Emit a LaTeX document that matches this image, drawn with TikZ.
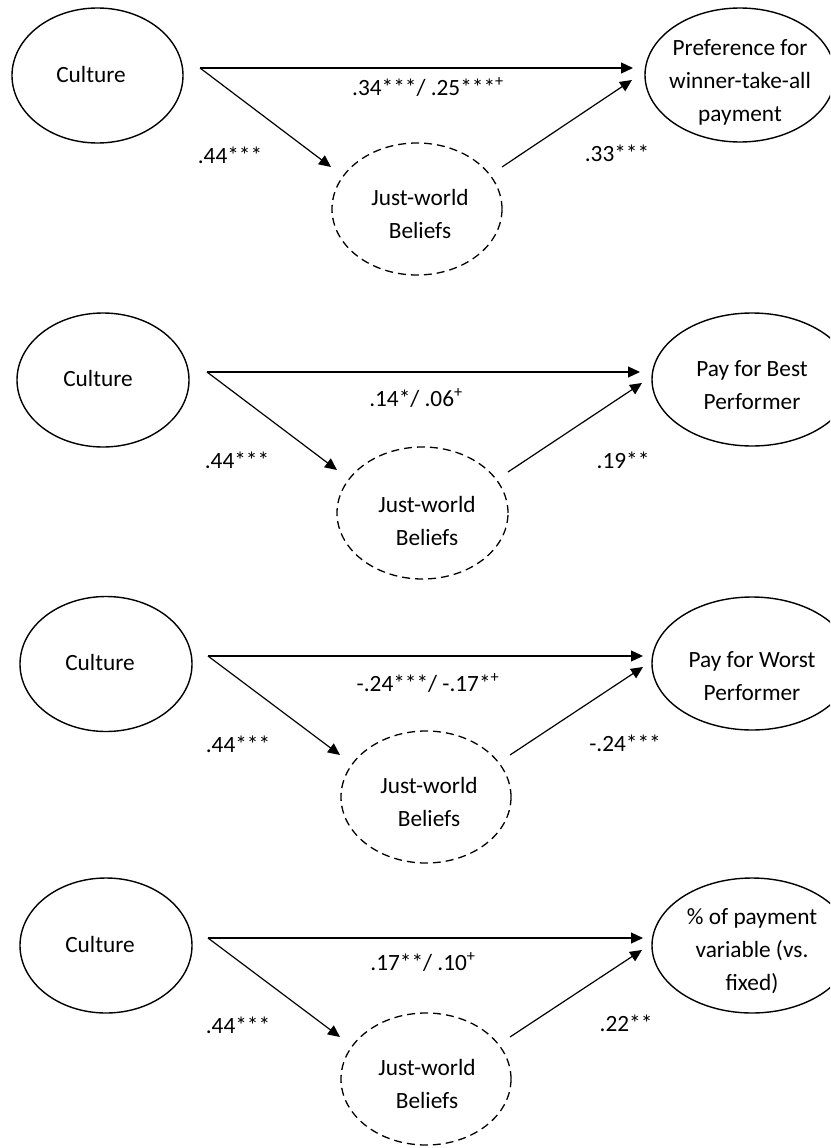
\documentclass[tikz,border=0pt]{standalone}
\usepackage{fontspec}
\setmainfont{Carlito}
\usetikzlibrary{shapes.geometric,arrows.meta}
\tikzset{
  solidell/.style={ellipse, draw, line width=1.4pt, inner sep=0pt},
  dashell/.style={ellipse, draw, line width=1.3pt, dash pattern=on 8pt off 5pt, inner sep=0pt},
  txt/.style={align=center, inner sep=0pt, font=\fontsize{23.3}{33}\selectfont},
  lbl/.style={inner sep=0pt, font=\fontsize{23.3}{28}\selectfont},
  arr/.style={line width=1.2pt, -{Triangle[length=12pt,width=11pt]}}
}
\newcommand{\plussup}{\textsuperscript{+}}
\begin{document}
\begin{tikzpicture}[x=1pt,y=-1pt]
\useasboundingbox (0,0) rectangle (830,1148);
\clip (0,0) rectangle (830,1148);
\fill[white] (0,0) rectangle (830,1148);

% ---------- Panel 1 ----------
\node[solidell, minimum width=171pt, minimum height=135pt] (cu1) at (97.5,75.5) {};
\node[txt] (cu1t) at (91,74) {Culture};
\node[solidell, minimum width=190pt, minimum height=134pt] (ou1) at (740,75) {};
\node[txt] (ou1t) at (740,82.5) {Preference for\\winner-take-all\\payment};
\node[dashell, minimum width=170pt, minimum height=132pt] (jw1) at (417,209) {};
\node[txt] (jw1t) at (420,213.5) {Just-world\\Beliefs};
\coordinate (s1) at (200,68);
\coordinate (e1) at (633,68);
\coordinate (d1) at (331,167);
\coordinate (j1) at (502,167);
\coordinate (f1) at (632,80);
\draw[arr] (s1) -- (e1);
\draw[arr] (s1) -- (d1);
\draw[arr] (j1) -- (f1);
\node[lbl] (l1a) at (428,87) {.34***/ .25***\plussup};
\node[lbl] (l1b) at (230,155) {.44***};
\node[lbl] (l1c) at (617,153) {.33***};

% ---------- Panel 2 ----------
\node[solidell, minimum width=172pt, minimum height=134pt] (cu2) at (103,380) {};
\node[txt] (cu2t) at (98,378) {Culture};
\node[solidell, minimum width=200pt, minimum height=133pt] (ou2) at (752,379.5) {};
\node[txt] (ou2t) at (752,385.5) {Pay for Best\\Performer};
\node[dashell, minimum width=171pt, minimum height=132pt] (jw2) at (422.5,513) {};
\node[txt] (jw2t) at (427,521) {Just-world\\Beliefs};
\coordinate (s2) at (207,372);
\coordinate (e2) at (640,372);
\coordinate (d2) at (337,470);
\coordinate (j2) at (508,472);
\coordinate (f2) at (642,383);
\draw[arr] (s2) -- (e2);
\draw[arr] (s2) -- (d2);
\draw[arr] (j2) -- (f2);
\node[lbl] (l2a) at (416,398) {.14*/ .06\plussup};
\node[lbl] (l2b) at (237,460) {.44***};
\node[lbl] (l2c) at (623,460) {.19**};

% ---------- Panel 3 ----------
\node[solidell, minimum width=172pt, minimum height=135pt] (cu3) at (106,664) {};
\node[txt] (cu3t) at (100,662) {Culture};
\node[solidell, minimum width=200pt, minimum height=133pt] (ou3) at (752,663.5) {};
\node[txt] (ou3t) at (752,676.5) {Pay for Worst\\Performer};
\node[dashell, minimum width=170pt, minimum height=132pt] (jw3) at (426,797) {};
\node[txt] (jw3t) at (429,801.5) {Just-world\\Beliefs};
\coordinate (s3) at (208,656);
\coordinate (e3) at (643,656);
\coordinate (d3) at (340,755);
\coordinate (j3) at (510,755);
\coordinate (f3) at (643,667);
\draw[arr] (s3) -- (e3);
\draw[arr] (s3) -- (d3);
\draw[arr] (j3) -- (f3);
\node[lbl] (l3a) at (428,683) {-.24***/ -.17*\plussup};
\node[lbl] (l3b) at (238,744) {.44***};
\node[lbl] (l3c) at (625,743) {-.24***};

% ---------- Panel 4 ----------
\node[solidell, minimum width=172pt, minimum height=135pt] (cu4) at (106,945.5) {};
\node[txt] (cu4t) at (100,944) {Culture};
\node[solidell, minimum width=200pt, minimum height=135pt] (ou4) at (752,945.5) {};
\node[txt] (ou4t) at (752,951) {\% of payment\\variable (vs.\\fixed)};
\node[dashell, minimum width=170pt, minimum height=132pt] (jw4) at (426,1079) {};
\node[txt] (jw4t) at (427,1083.5) {Just-world\\Beliefs};
\coordinate (s4) at (208,938);
\coordinate (e4) at (643,938);
\coordinate (d4) at (340,1037);
\coordinate (j4) at (510,1037);
\coordinate (f4) at (642,950);
\draw[arr] (s4) -- (e4);
\draw[arr] (s4) -- (d4);
\draw[arr] (j4) -- (f4);
\node[lbl] (l4a) at (423,962) {.17**/ .10\plussup};
\node[lbl] (l4b) at (238,1025) {.44***};
\node[lbl] (l4c) at (626,1023) {.22**};
\end{tikzpicture}
\end{document}
